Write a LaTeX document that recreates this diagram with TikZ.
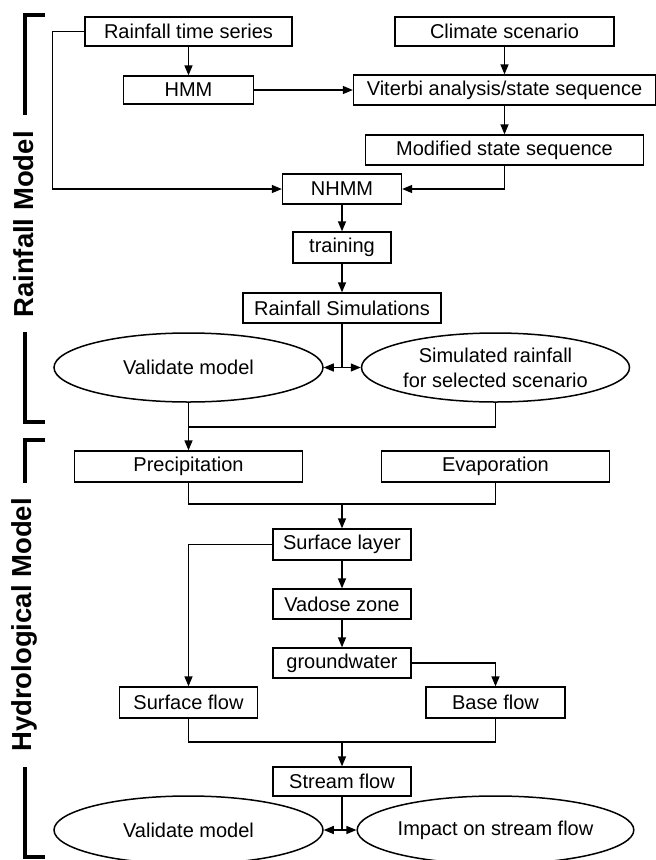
\documentclass[tikz,border=0pt]{standalone}
\usepackage{fontspec}
\setmainfont{Liberation Sans}
\usetikzlibrary{
	arrows.meta,
	positioning,
	shapes.geometric
}

\begin{document}
\begin{tikzpicture}[
	x=1pt, y=-1pt,
	box/.style={
		rectangle,
		draw=black,
		line width=1.3pt,
		align=center,
		inner sep=0pt,
		minimum height=30pt,
		font=\fontsize{20}{24}\selectfont
	},
	oval/.style={
		ellipse,
		draw=black,
		line width=1.5pt,
		align=center,
		inner sep=0pt,
		minimum width=269pt,
		minimum height=69pt,
		font=\fontsize{20}{25}\selectfont
	},
	line/.style={line width=1.3pt, draw=black},
	arr/.style={line, -{Triangle[length=10pt, width=8pt]}},
	bracket/.style={line width=4.5pt, draw=black},
	side/.style={rotate=90, font=\fontsize{27.5}{30}\selectfont\bfseries, inner sep=0pt}
]
\useasboundingbox (0,0) rectangle (656,860);

% Rainfall model
\node[box, minimum width=207pt, minimum height=29pt] (rts) at (188.5,31.5) {Rainfall time series};
\node[box, minimum width=219pt, minimum height=29pt] (clim) at (504.5,31.5) {Climate scenario};
\node[box, minimum width=130pt, minimum height=28pt] (hmm) at (188.5,90) {HMM};
\node[box, minimum width=302pt] (vit) at (504.5,90) {Viterbi analysis/state sequence};
\node[box, minimum width=278pt] (mod) at (504.5,150) {Modified state sequence};
\node[box, minimum width=119pt] (nhmm) at (342,189) {NHMM};
\node[box, minimum width=98pt, minimum height=31pt] (train) at (342,247.5) {training};
\node[box, minimum width=198pt] (rsim) at (342,308) {Rainfall Simulations};
\node[oval] (val1) at (188.5,367.5) {Validate model};
\node[oval, minimum width=268pt] (simr) at (495.5,367.5) {Simulated rainfall\\for selected scenario};

\draw[arr] (rts.south) -- (hmm.north);
\draw[arr] (clim.south) -- (vit.north);
\draw[arr] (hmm.east) -- (vit.west);
\draw[arr] (vit.south) -- (mod.north);
\draw[arr] (rts.west) -- ++(-32,0) |- (nhmm.west);
\draw[arr] (mod.south) |- (nhmm.east);
\draw[arr] (nhmm.south) -- (train.north);
\draw[arr] (train.south) -- (rsim.north);
\coordinate (j1) at (rsim.south |- val1.east);
\draw[line] (rsim.south) -- (j1);
\draw[arr] (j1) -- (val1.east);
\draw[arr] (j1) -- (simr.west);

% Hydrological model
\node[box, minimum width=228pt, minimum height=31pt] (prec) at (188.5,466.5) {Precipitation};
\node[box, minimum width=228pt, minimum height=31pt] (evap) at (495.5,466.5) {Evaporation};
\node[box, minimum width=138pt, minimum height=31pt] (surf) at (342,544.5) {Surface layer};
\node[box, minimum width=138pt] (vad) at (342,604) {Vadose zone};
\node[box, minimum width=138pt] (gw) at (342,663) {groundwater};
\node[box, minimum width=138pt, minimum height=31pt] (sflow) at (188.5,702.5) {Surface flow};
\node[box, minimum width=139pt, minimum height=31pt] (bflow) at (495.5,702.5) {Base flow};
\node[box, minimum width=138pt, minimum height=29pt] (stream) at (342,781.5) {Stream flow};
\node[oval, minimum height=68pt] (val2) at (188.5,830) {Validate model};
\node[oval, minimum width=268pt, minimum height=68pt] (impact) at (495.5,830) {Impact on stream flow};

\coordinate (m1) at (188.5,427);
\draw[line] (simr.south) |- (m1);
\draw[arr] (val1.south) -- (prec.north);
\coordinate (m2) at (342,504);
\draw[line] (prec.south) |- (m2) -| (evap.south);
\draw[arr] (m2) -- (surf.north);
\draw[arr] (surf.west) -| (sflow.north);
\draw[arr] (surf.south) -- (vad.north);
\draw[arr] (vad.south) -- (gw.north);
\draw[arr] (gw.east) -| (bflow.north);
\coordinate (m3) at (342,742);
\draw[line] (sflow.south) |- (m3) -| (bflow.south);
\draw[arr] (m3) -- (stream.north);
\coordinate (j2) at (stream.south |- val2.east);
\draw[line] (stream.south) -- (j2);
\draw[arr] (j2) -- (val2.east);
\draw[arr] (j2) -- (impact.west);

% Side brackets
\draw[bracket] (45,15) -- (25,15) -- (25,115);
\draw[bracket] (25,332) -- (25,422) -- (45,422);
\node[side] (rlab) at (24,224.5) {Rainfall Model};
\draw[bracket] (45,440) -- (25,440) -- (25,483);
\draw[bracket] (25,767) -- (25,857) -- (45,857);
\node[side] (hlab) at (24,625) {Hydrological Model};
\end{tikzpicture}
\end{document}
